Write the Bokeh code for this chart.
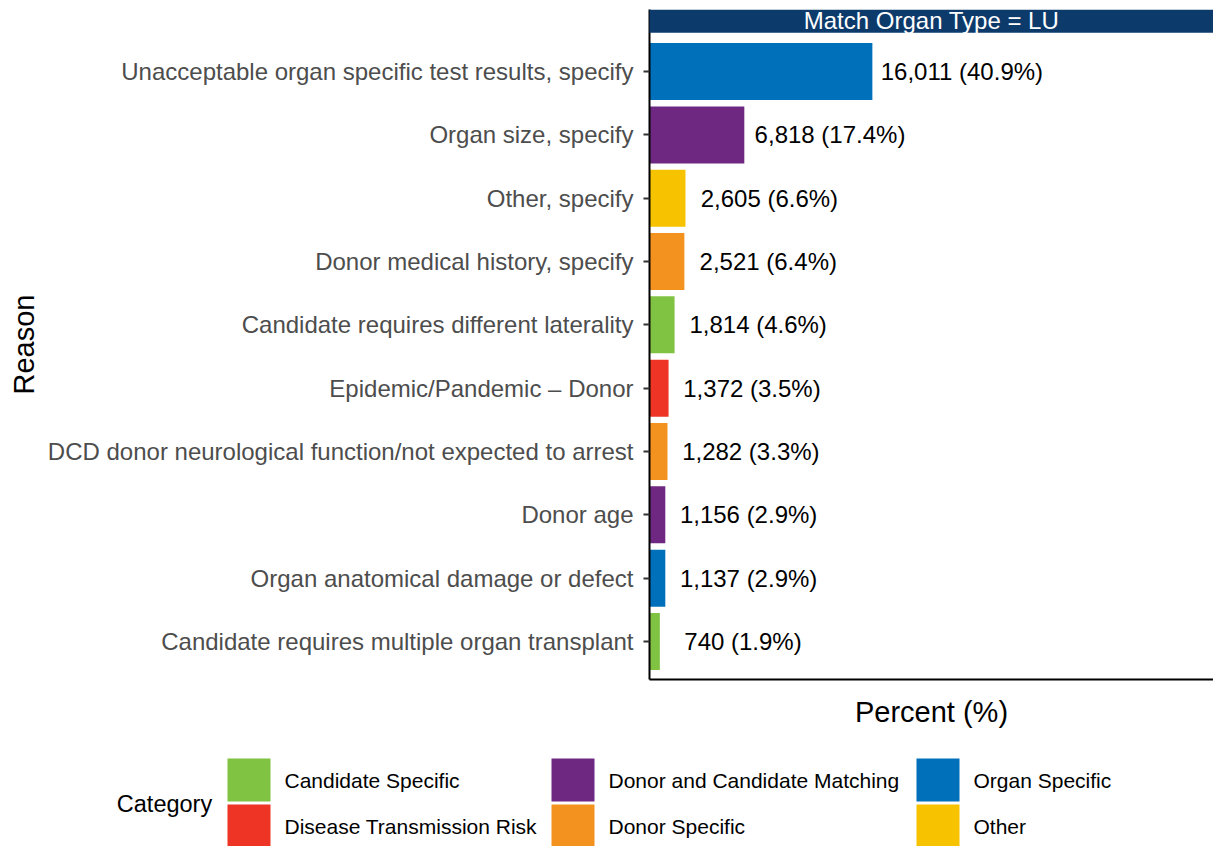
from bokeh.plotting import figure
from bokeh.models import (Range1d, FixedTicker, BoxAnnotation, Label,
                          ColumnDataSource)
from bokeh.embed import file_html
from bokeh.resources import INLINE
from bokeh.core.properties import value

# ---------------- data ----------------
reasons = [
    "Unacceptable organ specific test results, specify",
    "Organ size, specify",
    "Other, specify",
    "Donor medical history, specify",
    "Candidate requires different laterality",
    "Epidemic/Pandemic \u2013 Donor",
    "DCD donor neurological function/not expected to arrest",
    "Donor age",
    "Organ anatomical damage or defect",
    "Candidate requires multiple organ transplant",
]
counts = [16011, 6818, 2605, 2521, 1814, 1372, 1282, 1156, 1137, 740]
percents = [40.9, 17.4, 6.6, 6.4, 4.6, 3.5, 3.3, 2.9, 2.9, 1.9]
categories = [
    "Organ Specific",
    "Donor and Candidate Matching",
    "Other",
    "Donor Specific",
    "Candidate Specific",
    "Disease Transmission Risk",
    "Donor Specific",
    "Donor and Candidate Matching",
    "Organ Specific",
    "Candidate Specific",
]
legend_order = [
    "Candidate Specific",
    "Disease Transmission Risk",
    "Donor and Candidate Matching",
    "Donor Specific",
    "Organ Specific",
    "Other",
]
category_colors = {
    "Candidate Specific": "#80C342",
    "Disease Transmission Risk": "#EE3425",
    "Donor and Candidate Matching": "#6E2881",
    "Donor Specific": "#F3921F",
    "Organ Specific": "#0070BA",
    "Other": "#F7C200",
}
strip_text = "Match Organ Type = LU"
x_title = "Percent (%)"
y_title = "Reason"
legend_title = "Category"

# ---------------- main chart ----------------
FONT = "Liberation Sans"
X_END = 103.5
positions = list(range(len(reasons)))

p = figure(width=1213, height=740,
           x_range=Range1d(0, X_END), y_range=Range1d(9.6, -0.98),
           output_backend="svg", toolbar_location=None,
           min_border_left=649, min_border_right=0,
           min_border_top=9, min_border_bottom=61)
p.outline_line_color = None
p.xgrid.visible = False
p.ygrid.visible = False
p.background_fill_color = "white"

for cat in legend_order:
    idx = [i for i, c in enumerate(categories) if c == cat]
    src = ColumnDataSource(dict(y=[positions[i] for i in idx],
                                right=[percents[i] for i in idx]))
    p.hbar(y="y", left=0, right="right", height=0.9, source=src,
           fill_color=category_colors[cat], line_color=None)

# value labels (centred a little to the right of each bar)
labels = [f"{c:,} ({v}%)" for c, v in zip(counts, percents)]
lab_src = ColumnDataSource(dict(x=[v * 1.03 + 15.2 for v in percents],
                                y=positions, t=labels))
p.text(x="x", y="y", text="t", source=lab_src, text_align="center",
       text_baseline="middle", text_font=value(FONT), text_font_size="24px",
       text_color="black")

xa = p.xaxis[0]
xa.ticker = FixedTicker(ticks=[])
xa.major_label_text_font_size = "0px"
xa.major_tick_out = 0
xa.major_tick_in = 0
xa.minor_tick_out = 0
xa.minor_tick_in = 0
xa.axis_line_color = "black"
xa.axis_line_width = 2
xa.axis_label = x_title
xa.axis_label_text_font = FONT
xa.axis_label_text_font_size = "29px"
xa.axis_label_text_font_style = "normal"
xa.axis_label_text_color = "black"
xa.axis_label_standoff = 16

ya = p.yaxis[0]
ya.ticker = FixedTicker(ticks=positions)
ya.major_label_overrides = {i: r for i, r in zip(positions, reasons)}
ya.major_label_text_font = FONT
ya.major_label_text_font_size = "24px"
ya.major_label_text_color = "#4D4D4D"
ya.major_label_standoff = 10
ya.major_tick_out = 6
ya.major_tick_in = 0
ya.major_tick_line_color = "#333333"
ya.major_tick_line_width = 2
ya.minor_tick_out = 0
ya.minor_tick_in = 0
ya.axis_line_color = "black"
ya.axis_line_width = 2
ya.axis_label = y_title
ya.axis_label_text_font = FONT
ya.axis_label_text_font_size = "29px"
ya.axis_label_text_font_style = "normal"
ya.axis_label_text_color = "black"
ya.axis_label_standoff = 5

strip = BoxAnnotation(left=-0.2, right=X_END, top=-0.98, bottom=-0.612,
                      fill_color="#0C3A6B", fill_alpha=1, line_color=None)
p.add_layout(strip)
p.add_layout(Label(x=X_END / 2, y=-0.8, text=strip_text, text_align="center",
                   text_baseline="middle", text_font=FONT,
                   text_font_size="24px", text_color="white"))

# ---------------- legend panel (separate root below the chart) ----------------
L_W, L_H = 1213, 106
KEY = 43
ROW_TOPS = [18, 64]
COL_LEFTS = [227, 551, 916]
LABEL_GAP = 14

q = figure(width=L_W, height=L_H, x_range=Range1d(0, L_W), y_range=Range1d(L_H, 0),
           output_backend="svg", toolbar_location=None,
           x_axis_location=None, y_axis_location=None,
           min_border=0, min_border_left=0, min_border_right=0,
           min_border_top=0, min_border_bottom=0)
q.grid.visible = False
q.outline_line_color = None

kx, ky, kc, lx, ly = [], [], [], [], []
for n, cat in enumerate(legend_order):
    col, row = divmod(n, 2)
    left, top = COL_LEFTS[col], ROW_TOPS[row]
    kx.append(left + KEY / 2)
    ky.append(top + KEY / 2)
    kc.append(category_colors[cat])
    lx.append(left + KEY + LABEL_GAP)
    ly.append(top + KEY / 2)
q.rect(x=kx, y=ky, width=KEY, height=KEY, fill_color=kc, line_color=None)
q.text(x=lx, y=ly, text=legend_order, text_align="left", text_baseline="middle",
       text_font=value(FONT), text_font_size="21px", text_color="black")
q.add_layout(Label(x=164, y=63, text=legend_title, text_align="center",
                   text_baseline="middle", text_font=FONT,
                   text_font_size="23.5px", text_color="black"))

open("out.html", "w").write(file_html([p, q], INLINE))
